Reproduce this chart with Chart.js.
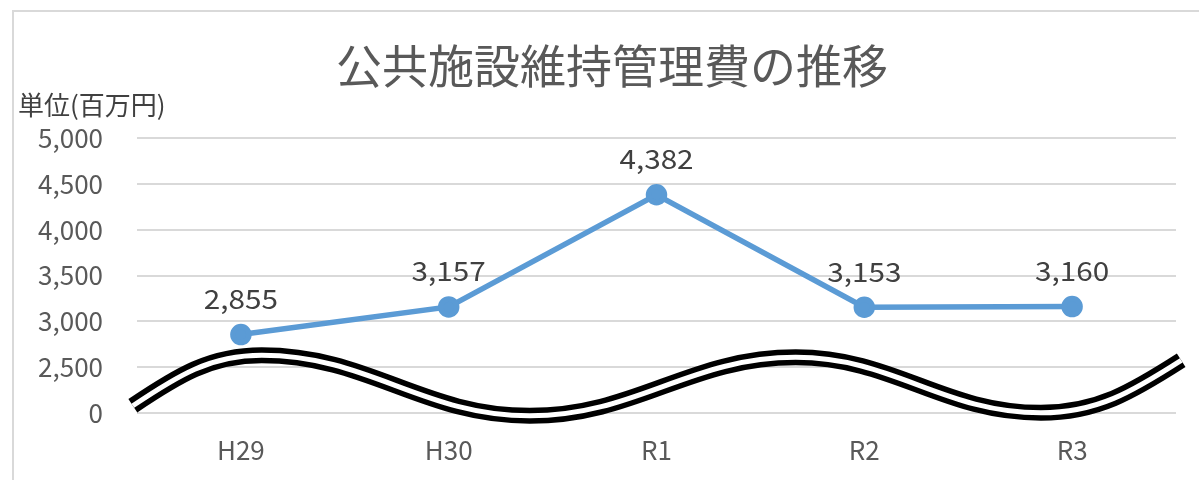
<!DOCTYPE html>
<html>
<head>
<meta charset="utf-8">
<script src="https://cdn.jsdelivr.net/npm/chart.js@4/dist/chart.umd.min.js"></script>
<style>
  html, body { margin: 0; padding: 0; background: #fff; overflow: hidden; }
  #frame { position: absolute; left: 12px; top: 10px; width: 1200px; height: 480px;
           border-top: 2px solid #d9d9d9; border-left: 2px solid #d9d9d9; }
  #wrap { position: absolute; left: 0; top: 0; width: 1200px; height: 468px; }
</style>
</head>
<body>
<div id="frame"><div id="wrap"><canvas id="chart"></canvas></div></div>
<script>
const years = ['H29', 'H30', 'R1', 'R2', 'R3'];
const costs = [2855, 3157, 4382, 3153, 3160];
// axis is broken: the lowest tick (2000) is printed as 0
const yTicks = [2000, 2500, 3000, 3500, 4000, 4500, 5000];
const unitText = '単位(百万円)';

const FONT = '"Noto Sans CJK JP", "Noto Sans", sans-serif';

// value labels above the points + unit label at top left
const valueLabels = {
  id: 'valueLabels',
  afterDatasetsDraw(chart) {
    const ctx = chart.ctx;
    const meta = chart.getDatasetMeta(0);
    ctx.save();
    ctx.font = '27px ' + FONT;
    ctx.fillStyle = '#404040';
    ctx.textAlign = 'center';
    ctx.textBaseline = 'middle';
    meta.data.forEach((pt, i) => {
      ctx.save();
      ctx.translate(pt.x, pt.y - 36);
      ctx.scale(1.1, 1);
      ctx.fillText(costs[i].toLocaleString('en-US'), 0, 0);
      ctx.restore();
    });
    ctx.font = '26px ' + FONT;
    ctx.textAlign = 'left';
    ctx.fillText(unitText, chart.chartArea.left - 119, chart.chartArea.top - 33);
    ctx.restore();
  }
};

// double wavy line marking the axis break
const axisBreak = {
  id: 'axisBreak',
  beforeDatasetsDraw(chart) {
    const { ctx, chartArea, scales } = chart;
    const fx = [-0.004, 0.12, 0.378, 0.634, 0.87, 1.005];
    const vy = [2077, 2628, 1967, 2606, 2000, 2573];
    const w = chartArea.right - chartArea.left;
    const pts = fx.map((f, i) => [chartArea.left + f * w, scales.y.getPixelForValue(vy[i])]);
    const path = () => {
      ctx.beginPath();
      ctx.moveTo(pts[0][0], pts[0][1]);
      for (let i = 1; i < pts.length; i++) {
        const [x0, y0] = pts[i - 1];
        const [x1, y1] = pts[i];
        const dx = x1 - x0;
        let c1 = [x0 + dx * 0.4, y0];
        let c2 = [x1 - dx * 0.4, y1];
        if (i === 1) c1 = [x0 + dx * 0.35, y0 + (y1 - y0) * 0.6];
        if (i === pts.length - 1) c2 = [x1 - dx * 0.35, y1 - (y1 - y0) * 0.6];
        ctx.bezierCurveTo(c1[0], c1[1], c2[0], c2[1], x1, y1);
      }
    };
    ctx.save();
    ctx.lineCap = 'butt';
    path();
    ctx.strokeStyle = '#000';
    ctx.lineWidth = 16;
    ctx.stroke();
    path();
    ctx.strokeStyle = '#fff';
    ctx.lineWidth = 5;
    ctx.stroke();
    ctx.restore();
  }
};

new Chart(document.getElementById('chart'), {
  type: 'line',
  data: {
    labels: years,
    datasets: [{
      data: costs,
      borderColor: '#5b9bd5',
      backgroundColor: '#5b9bd5',
      borderWidth: 5.5,
      pointRadius: 8,
      pointHoverRadius: 8,
      tension: 0
    }]
  },
  options: {
    responsive: true,
    maintainAspectRatio: false,
    animation: false,
    layout: { padding: { left: 0, right: 4, bottom: 0 } },
    plugins: {
      legend: { display: false },
      tooltip: { enabled: false },
      title: {
        display: true,
        text: '公共施設維持管理費の推移',
        color: '#595959',
        font: { family: FONT, size: 46, weight: 'normal', lineHeight: 1.2 },
        padding: { top: 26, bottom: 45 }
      }
    },
    scales: {
      x: {
        offset: true,
        grid: { display: false },
        border: { display: false },
        ticks: { color: '#595959', padding: 14, font: { family: FONT, size: 26 } }
      },
      y: {
        min: 2000,
        max: 5000,
        afterBuildTicks: axis => { axis.ticks = yTicks.map(v => ({ value: v })); },
        afterFit: axis => { axis.width = 123; },
        grid: { color: '#d9d9d9', lineWidth: 2, drawTicks: false },
        border: { display: false },
        ticks: {
          color: '#595959',
          padding: 34,
          font: { family: FONT, size: 26 },
          callback: v => (v === 2000 ? '0' : v.toLocaleString('en-US'))
        }
      },
      // empty right-hand spacer so the plot ends where the original does
      y2: {
        position: 'right',
        grid: { display: false },
        border: { display: false },
        ticks: { display: false },
        afterFit: axis => { axis.width = 34; }
      }
    }
  },
  plugins: [axisBreak, valueLabels]
});
</script>
</body>
</html>
